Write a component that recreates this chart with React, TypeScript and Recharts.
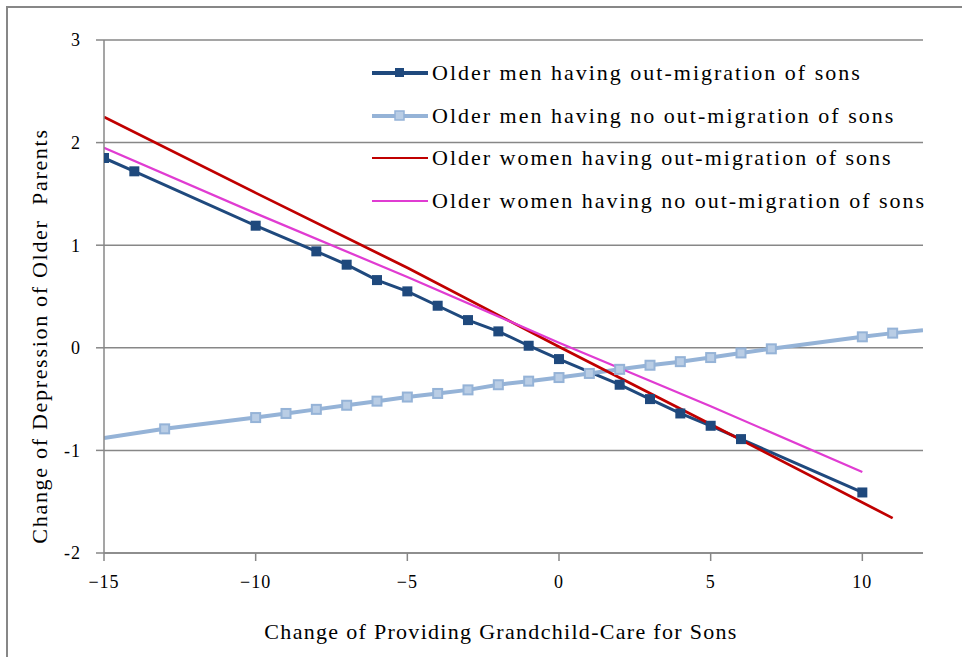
import React from 'react';
import { LineChart, Line, XAxis, YAxis, CartesianGrid, Legend } from 'recharts';

// x = change of providing grandchild-care, y = change of depression
const menOutX = [-15, -14, -10, -8, -7, -6, -5, -4, -3, -2, -1, 0, 2, 3, 4, 5, 6, 10];
const menOutY = [1.85, 1.72, 1.19, 0.94, 0.81, 0.66, 0.55, 0.41, 0.27, 0.16, 0.02, -0.11, -0.36, -0.5, -0.64, -0.76, -0.89, -1.41];

const menNoX = [-15, -13, -10, -9, -8, -7, -6, -5, -4, -3, -2, -1, 0, 1, 2, 3, 4, 5, 6, 7, 10, 11, 12];
const menNoY = [-0.88, -0.79, -0.68, -0.64, -0.6, -0.56, -0.52, -0.48, -0.445, -0.41, -0.36, -0.325, -0.29, -0.25, -0.21, -0.17, -0.135, -0.095, -0.05, -0.01, 0.107, 0.143, 0.17];
const menNoUnmarked = [-15, 12];

const womenOutX = [-15, -10, -5, 0, 5, 11];
const womenOutY = [2.25, 1.51, 0.78, 0.01, -0.745, -1.66];

const womenNoX = [-15, -10, -5, 0, 5, 10];
const womenNoY = [1.95, 1.31, 0.69, 0.05, -0.57, -1.21];

const xTicks = [-15, -10, -5, 0, 5, 10];
const yTicks = [-2, -1, 0, 1, 2, 3];

const seriesNames = [
  'Older men having out-migration of sons',
  'Older men having no out-migration of sons',
  'Older women having out-migration of sons',
  'Older women having no out-migration of sons',
];

const DARK = '#1f497d';
const LIGHT = '#95b3d7';
const LIGHT_FILL = '#b9cde5';
const RED = '#c00000';
const MAGENTA = '#e03cd2';
const GRID = '#878787';
const FONT = '"Liberation Serif", "Times New Roman", serif';

const rows = (xs: number[], ys: number[]) => xs.map((x, i) => ({ x, y: ys[i] }));

const menOut = rows(menOutX, menOutY);
const menNo = rows(menNoX, menNoY);
const womenOut = rows(womenOutX, womenOutY);
const womenNo = rows(womenNoX, womenNoY);

const squareDot = (fill: string, stroke: string, size: number, skip: number[] = []) => (props: any) => {
  const { cx, cy, payload, index } = props;
  if (cx == null || cy == null || skip.includes(payload?.x)) return <g key={`d-${index}`} />;
  return (
    <rect
      key={`d-${index}`}
      x={cx - size / 2}
      y={cy - size / 2}
      width={size}
      height={size}
      fill={fill}
      stroke={stroke}
      strokeWidth={fill === stroke ? 0 : 2}
    />
  );
};

const legendItems = [
  { color: DARK, width: 4, marker: DARK, markerStroke: DARK },
  { color: LIGHT, width: 4, marker: LIGHT_FILL, markerStroke: LIGHT },
  { color: RED, width: 2, marker: null, markerStroke: null },
  { color: MAGENTA, width: 2, marker: null, markerStroke: null },
];

const LegendBox = () => (
  <div style={{ fontFamily: FONT, fontSize: 22, color: '#000' }}>
    {seriesNames.map((name, i) => {
      const it = legendItems[i];
      return (
        <div key={name} style={{ display: 'flex', alignItems: 'center', height: 42.5, whiteSpace: 'nowrap' }}>
          <svg width={60} height={20} style={{ marginRight: 2 }}>
            <line x1={2} y1={10} x2={58} y2={10} stroke={it.color} strokeWidth={it.width} />
            {it.marker && (
              <rect x={25} y={5} width={9} height={9} fill={it.marker} stroke={it.markerStroke!} strokeWidth={it.marker === it.markerStroke ? 0 : 1.5} />
            )}
          </svg>
          <span style={{ letterSpacing: 2 }}>{name}</span>
        </div>
      );
    })}
  </div>
);

const tickStyle = { fill: '#000', fontSize: 18, fontFamily: FONT, letterSpacing: 1 };

const App: React.FC = () => {
  return (
    <div style={{ position: 'absolute', left: 0, top: 0, width: 962, height: 657, background: '#fff', overflow: 'hidden' }}>
      <div style={{ position: 'absolute', left: 6, top: 6, width: 1000, height: 700, borderLeft: `2px solid ${GRID}`, borderTop: `2px solid ${GRID}` }} />
      <LineChart
        width={962}
        height={657}
        margin={{ top: 40, right: 39, bottom: 44, left: 0 }}
        style={{ position: 'absolute', left: 0, top: 0 }}
      >
        <CartesianGrid vertical={false} stroke={GRID} strokeWidth={1.5} />
        <XAxis
          type="number"
          dataKey="x"
          domain={[-15, 12]}
          ticks={xTicks}
          allowDataOverflow
          height={60}
          tickSize={8}
          tickMargin={14}
          tickFormatter={(v: number) => (v < 0 ? `\u2212${Math.abs(v)}` : `${v}`)}
          tick={tickStyle}
          axisLine={{ stroke: GRID, strokeWidth: 1.5 }}
          tickLine={{ stroke: GRID, strokeWidth: 1.5 }}
        />
        <YAxis
          type="number"
          domain={[-2, 3]}
          ticks={yTicks}
          allowDataOverflow
          width={104}
          tickSize={8}
          tickMargin={15}
          tick={tickStyle}
          axisLine={{ stroke: GRID, strokeWidth: 1.5 }}
          tickLine={{ stroke: GRID, strokeWidth: 1.5 }}
        />
        <Legend
          layout="vertical"
          align="center"
          verticalAlign="middle"
          wrapperStyle={{ left: 370, top: 52, width: 590 }}
          content={() => <LegendBox />}
        />
        <Line
          data={menOut}
          dataKey="y"
          name={seriesNames[0]}
          stroke={DARK}
          strokeWidth={3}
          dot={squareDot(DARK, DARK, 10)}
          activeDot={false}
          isAnimationActive={false}
        />
        <Line
          data={menNo}
          dataKey="y"
          name={seriesNames[1]}
          stroke={LIGHT}
          strokeWidth={4}
          dot={squareDot(LIGHT_FILL, LIGHT, 9, menNoUnmarked)}
          activeDot={false}
          isAnimationActive={false}
        />
        <Line
          data={womenOut}
          dataKey="y"
          name={seriesNames[2]}
          stroke={RED}
          strokeWidth={2.75}
          dot={false}
          activeDot={false}
          isAnimationActive={false}
        />
        <Line
          data={womenNo}
          dataKey="y"
          name={seriesNames[3]}
          stroke={MAGENTA}
          strokeWidth={2.25}
          dot={false}
          activeDot={false}
          isAnimationActive={false}
        />
      </LineChart>
      <div
        style={{
          position: 'absolute',
          left: 40,
          top: 336,
          transform: 'translate(-50%, -50%) rotate(-90deg)',
          whiteSpace: 'nowrap',
          fontFamily: FONT,
          fontSize: 22,
          letterSpacing: 1.7,
        }}
      >
        Change of Depression of Older&nbsp; Parents
      </div>
      <div
        style={{
          position: 'absolute',
          left: 501,
          top: 632,
          transform: 'translate(-50%, -50%)',
          whiteSpace: 'nowrap',
          fontFamily: FONT,
          fontSize: 22,
          letterSpacing: 1.3,
        }}
      >
        Change of Providing Grandchild-Care for Sons
      </div>
    </div>
  );
};

export default App;
